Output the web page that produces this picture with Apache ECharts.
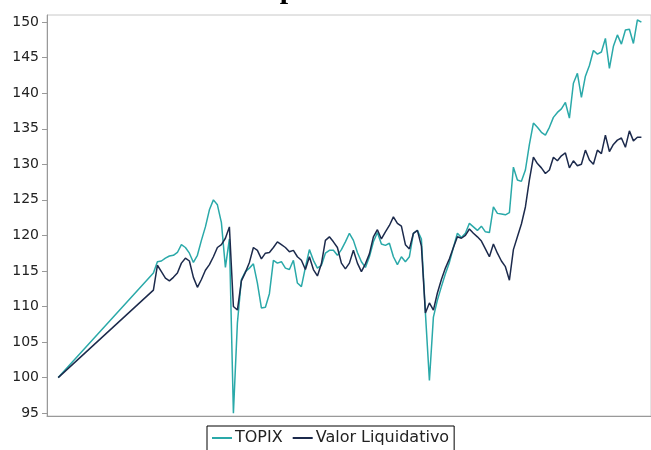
<!DOCTYPE html>
<html><head><meta charset="utf-8">
<script src="https://cdn.jsdelivr.net/npm/echarts@6/dist/echarts.min.js"></script>
<style>html,body{margin:0;padding:0;background:#fff;overflow:hidden}#c{width:651px;height:450px}</style>
</head><body><div id="c"></div>
<script>
// ---- data ----
const titleText = 'Comparativa con el índice';
const seriesNames = ['TOPIX', 'Valor Liquidativo'];
const firstDate = '2023-12-29';
const denseStart = '2024-04-26';
const stepDays = 5;
const yTicks = [95, 100, 105, 110, 115, 120, 125, 130, 135, 140, 145, 150];
const topix = [100,
  114.7, 116.3, 116.4, 116.8, 117.1, 117.2, 117.6, 118.7, 118.3, 117.5,
  116.2, 117.2, 119.3, 121.2, 123.6, 125, 124.3, 121.8, 115.5, 119.5,
  95, 107.7, 113.8, 114.9, 115.4, 116, 113.3, 109.8, 109.9, 111.8,
  116.5, 116.1, 116.3, 115.4, 115.2, 116.5, 113.3, 112.8, 115.5, 118,
  116.5, 115.4, 115.8, 117.5, 117.9, 117.9, 117.2, 118, 119.1, 120.3,
  119.3, 117.6, 116.3, 115.5, 117, 119.1, 120.4, 118.8, 118.6, 118.9,
  117, 115.9, 117, 116.3, 117, 120.3, 120.7, 119.5, 109.1, 99.6,
  108.5, 110.9, 112.8, 114.6, 116.2, 118.3, 120.3, 119.7, 120.3, 121.7,
  121.2, 120.7, 121.3, 120.5, 120.4, 124, 123.1, 123, 122.9, 123.2,
  129.6, 127.8, 127.6, 129.2, 132.8, 135.8, 135.2, 134.5, 134.1, 135.2,
  136.6, 137.3, 137.8, 138.7, 136.5, 141.4, 142.8, 139.4, 142.4, 143.9,
  146, 145.5, 145.8, 147.7, 143.5, 146.6, 148.2, 146.9, 148.9, 149,
  147, 150.3, 150];
const valor = [100,
  112.3, 115.8, 114.9, 114, 113.6, 114.1, 114.7, 116.1, 116.8, 116.4,
  114.1, 112.7, 113.8, 115.1, 115.9, 117, 118.3, 118.7, 119.6, 121.2,
  110, 109.5, 113.6, 114.8, 116.2, 118.3, 117.9, 116.7, 117.5, 117.6,
  118.3, 119.1, 118.7, 118.3, 117.7, 117.9, 117, 116.5, 115.2, 117,
  115.2, 114.3, 116, 119.3, 119.8, 119.1, 118.3, 116.1, 115.3, 116.1,
  117.9, 116.1, 114.9, 116, 117.4, 119.8, 120.8, 119.5, 120.5, 121.4,
  122.6, 121.7, 121.3, 118.7, 118.1, 120.3, 120.7, 118.5, 109.1, 110.5,
  109.5, 111.9, 113.8, 115.4, 116.7, 118.3, 119.8, 119.6, 120, 120.9,
  120.3, 119.8, 119.2, 118.1, 117, 118.8, 117.5, 116.4, 115.6, 113.7,
  118, 119.8, 121.6, 124, 127.8, 131, 130.1, 129.5, 128.7, 129.2,
  131, 130.5, 131.2, 131.6, 129.5, 130.5, 129.8, 130, 132, 130.6,
  130, 132, 131.5, 134.1, 131.8, 132.8, 133.4, 133.7, 132.4, 134.7,
  133.3, 133.8, 133.8];

// ---- build ----
const DAY = 86400000;
const dates = [new Date(firstDate + 'T00:00:00Z').getTime()];
const d0 = new Date(denseStart + 'T00:00:00Z').getTime();
for (let i = 1; i < topix.length; i++) dates.push(d0 + (i - 1) * stepDays * DAY);
const pair = arr => arr.map((v, i) => [dates[i], v]);

const chart = echarts.init(document.getElementById('c'), null, {renderer: 'canvas'});
chart.setOption({
  animation: false,
  backgroundColor: '#fff',
  graphic: [{
    type: 'text', left: 218, top: -25,
    style: {text: titleText, font: 'bold 30px "Liberation Serif"', fill: '#000'}
  }],
  grid: {left: 47, top: 15, right: -4, bottom: 34, show: true, borderColor: '#c8c8c8', borderWidth: 1},
  legend: {
    data: seriesNames, left: 207, top: 426,
    borderColor: '#000', borderWidth: 1, padding: [4, 5, 8, 5], itemGap: 10,
    itemWidth: 20, itemHeight: 2, icon: 'rect',
    textStyle: {fontFamily: 'DejaVu Sans', fontSize: 16, color: '#222', padding: [0, 0, 0, -2]}
  },
  xAxis: {
    type: 'time',
    min: new Date('2023-12-15T00:00:00Z').getTime(),
    max: new Date('2026-01-08T00:00:00Z').getTime(),
    axisLabel: {show: false}, axisTick: {show: false}, splitLine: {show: false},
    axisLine: {lineStyle: {color: '#999'}}
  },
  yAxis: {
    type: 'value', min: 94.6, max: 151,
    splitLine: {show: false},
    axisLine: {show: true, lineStyle: {color: '#999'}},
    axisTick: {show: true, length: 5, customValues: yTicks, lineStyle: {color: '#999'}},
    axisLabel: {customValues: yTicks, fontFamily: 'DejaVu Sans', fontSize: 14, color: '#222', margin: 8}
  },
  series: [
    {name: seriesNames[0], type: 'line', data: pair(topix), showSymbol: false, symbol: 'none',
     lineStyle: {color: '#2aa9a9', width: 1.5}, itemStyle: {color: '#2aa9a9'}},
    {name: seriesNames[1], type: 'line', data: pair(valor), showSymbol: false, symbol: 'none',
     lineStyle: {color: '#1c2a4c', width: 1.5}, itemStyle: {color: '#1c2a4c'}}
  ]
});
</script></body></html>
